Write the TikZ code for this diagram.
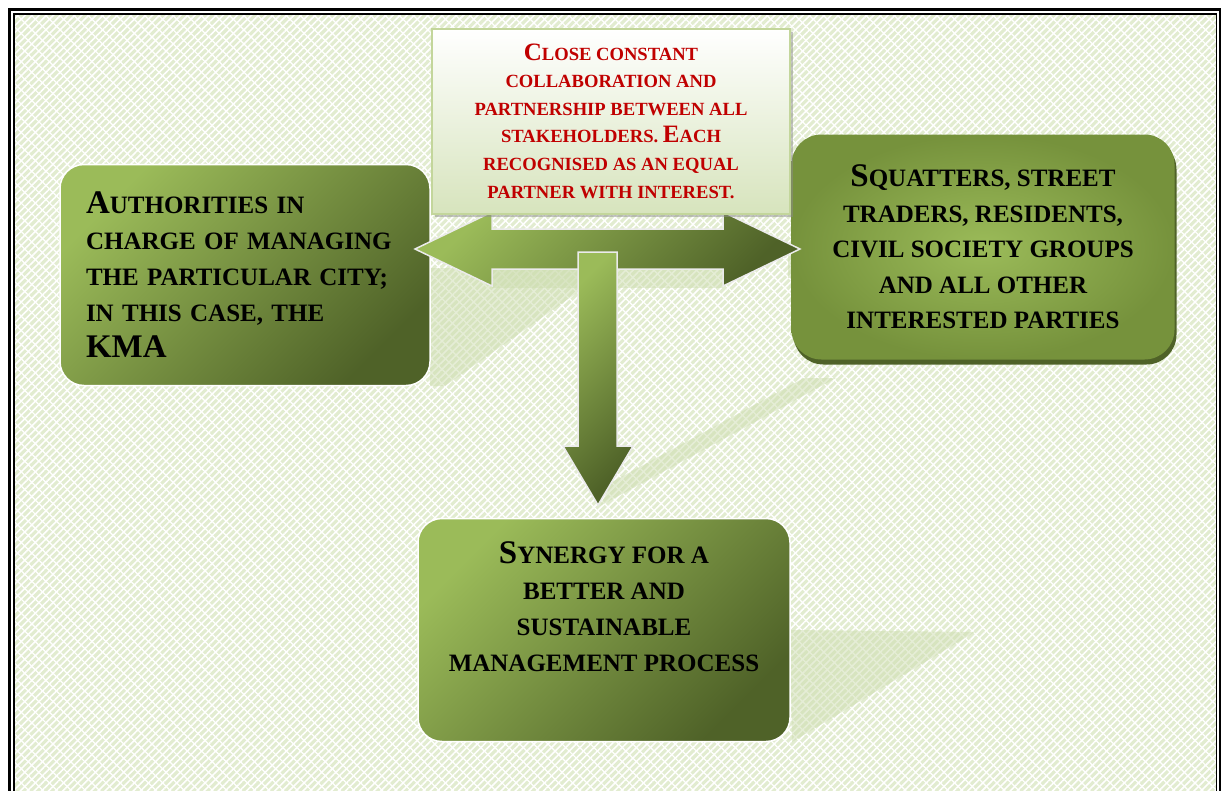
\documentclass[tikz,border=0pt]{standalone}
\usepackage{fontspec}
\setmainfont{Liberation Serif}
\usetikzlibrary{patterns.meta,shadows}

\definecolor{olvL}{RGB}{155,187,89}
\definecolor{olvM}{RGB}{118,146,60}
\definecolor{olvD}{RGB}{79,98,40}
\definecolor{paleG}{RGB}{215,228,189}
\definecolor{edgeG}{RGB}{195,214,155}
\definecolor{bgG}{RGB}{226,236,208}
\definecolor{shadeG}{RGB}{205,221,175}
\definecolor{darkred}{RGB}{192,0,0}

\newcommand{\capL}[1]{{\fontsize{33}{36}\selectfont #1}} % big initials, green boxes
\newcommand{\capS}[1]{{\fontsize{25}{28}\selectfont #1}} % big initials, top box

\tikzset{
 greenbox/.style={rounded corners=24, draw=white, line width=1.5,
  top color=olvL, bottom color=olvD, shading angle=45},
 blockarrow/.style={draw=white!92!black, line width=1.5,
  top color=olvL, bottom color=olvD, shading angle=45},
 faintshade/.style={fill=shadeG, opacity=.5},
 boxtext/.style={font=\bfseries\fontsize{25}{36}\selectfont, text=black},
}

\begin{document}
\begin{tikzpicture}[x=1pt,y=-1pt]
 \useasboundingbox (0,0) rectangle (1221,790);
 \coordinate (TL) at (9.5,9); %外枠左上
 \coordinate (BR) at (1220,830); %外枠右下
 \coordinate (tl) at (14,14.3); %内枠左上
 \coordinate (br) at (1216.5,830); %内枠右下

 % 背景
 \fill[bgG] (tl) rectangle (br);
 \fill[pattern={Lines[angle=45,distance=5pt,line width=1.6pt]},pattern color=white] (tl) rectangle (br);
 \fill[pattern={Lines[angle=-45,distance=10pt,line width=1.2pt]},pattern color=white] (tl) rectangle (br);
 \draw[line width=3] (TL) rectangle (BR);
 \draw[line width=1.8] (tl) rectangle (br);

 % 影
 \fill[faintshade] (430,268) -- (612,268) -- (445,386) -- (430,386) -- cycle;
 \fill[faintshade] (492,269) -- (723,269) -- (723,288) -- (492,288) -- cycle;
 \fill[faintshade] (788,255) -- (834,269) -- (788,278) -- cycle;
 \fill[faintshade] (600,506) -- (836,378) -- (804,378) -- (612,482) -- cycle;
 \fill[faintshade] (790,630) -- (975,632) -- (792,742) -- cycle;

 % 左の箱
 \node[greenbox, boxtext, text width=318, inner xsep=26, minimum height=221, align=left] (auth) at (245,275)
  {{\capL A}UTHORITIES IN\\ CHARGE OF MANAGING\\ THE PARTICULAR CITY;\\ IN THIS CASE, THE\\ \capL{KMA}};

 % 右の箱
 \node[rounded corners=30, inner color=olvL, outer color=olvM, boxtext, align=center,
  font=\bfseries\fontsize{25}{35.5}\selectfont,
  minimum width=383, minimum height=225,
  drop shadow={shadow xshift=2pt, shadow yshift=-5pt, fill=olvD, opacity=1}] (squat) at (983,247)
  {{\capL S}QUATTERS, STREET\\ TRADERS, RESIDENTS,\\ CIVIL SOCIETY GROUPS\\ AND ALL OTHER\\ INTERESTED PARTIES};

 % 両矢印
 \draw[blockarrow] (415,249) -- (492,212) -- (492,229) -- (723,229) -- (723,212) -- (800,249)
  -- (723,286) -- (723,269) -- (492,269) -- (492,286) -- cycle;

 % 上の箱
 \node[draw=edgeG, line width=2, top color=white, bottom color=paleG, align=center,
  font=\bfseries\fontsize{18.6}{27.6}\selectfont, text=darkred,
  minimum width=358, minimum height=185,
  drop shadow={shadow xshift=3pt, shadow yshift=-3pt, fill=black!45, opacity=.5}] (collab) at (611,121)
  {{\capS C}LOSE CONSTANT\\ COLLABORATION AND\\ PARTNERSHIP BETWEEN ALL\\ STAKEHOLDERS. {\capS E}ACH\\
   RECOGNISED AS AN EQUAL\\ PARTNER WITH INTEREST.};

 % 下向き矢印
 \draw[blockarrow] (578,252) -- (617,252) -- (617,446) -- (633,446) -- (598,505)
  -- (563,446) -- (578,446) -- cycle;

 % 下の箱
 \node[greenbox, minimum width=372, minimum height=223] (synergy) at (604,630) {};
 \node[boxtext, align=center] (synergytext) at (604,607)
  {{\capL S}YNERGY FOR A\\ BETTER AND\\ SUSTAINABLE\\ MANAGEMENT PROCESS};
\end{tikzpicture}
\end{document}
